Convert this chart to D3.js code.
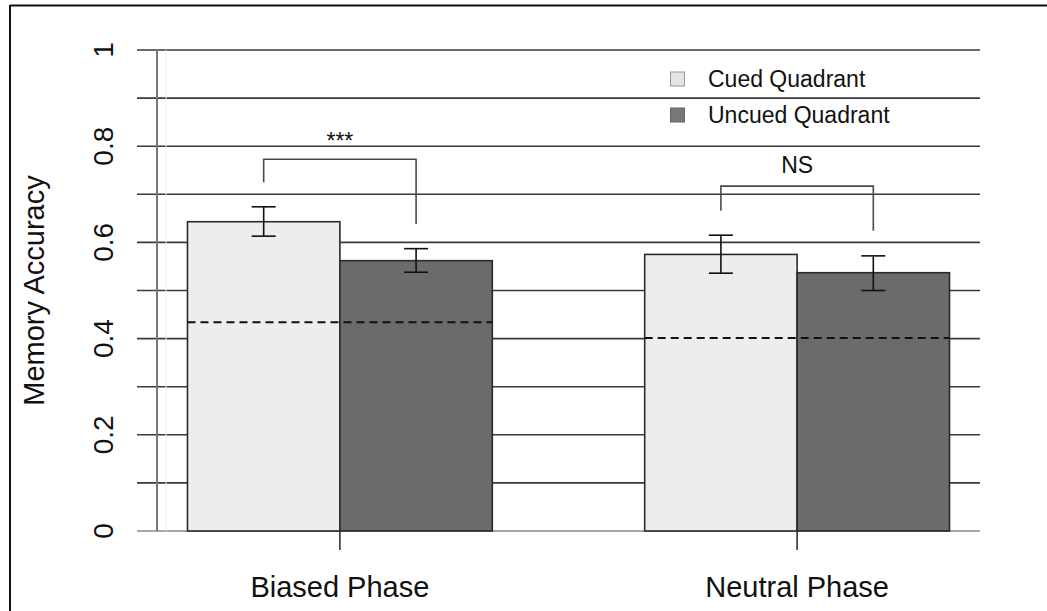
<!DOCTYPE html>
<html>
<head>
<meta charset="utf-8">
<script src="https://cdn.jsdelivr.net/npm/d3@7"></script>
<style>
  html, body { margin: 0; padding: 0; background: #fff; }
  svg { display: block; }
  text { font-family: "Liberation Sans", Arial, sans-serif; fill: #111; }
</style>
</head>
<body>
<svg id="chart" width="1047" height="611"></svg>
<script>
// Memory accuracy by phase and quadrant type
const phases = ["Biased Phase", "Neutral Phase"];
const seriesNames = ["Cued Quadrant", "Uncued Quadrant"];
const cuedMeans = [0.643, 0.575];
const uncuedMeans = [0.562, 0.537];
const cuedLow = [0.613, 0.536];
const cuedHigh = [0.674, 0.615];
const uncuedLow = [0.538, 0.500];
const uncuedHigh = [0.587, 0.572];
const chanceLevel = [0.434, 0.401];
const sigLabels = ["***", "NS"];
const bracketTop = [0.773, 0.717];
const bracketLeftEnd = [0.725, 0.666];
const bracketRightEnd = [0.638, 0.624];
const sigLabelY = [0.794, 0.745];
const yTicks = [0, 0.1, 0.2, 0.3, 0.4, 0.5, 0.6, 0.7, 0.8, 0.9, 1];
const yTickLabels = ["0", "", "0.2", "", "0.4", "", "0.6", "", "0.8", "", "1"];

const fills = ["#ededed", "#6b6b6b"];

const svg = d3.select("#chart");

// bar-unit horizontal scale: bars occupy [1,2],[2,3] and [4,5],[5,6]
const x = d3.scaleLinear().domain([0.8, 6.2]).range([157, 980]);
const y = d3.scaleLinear().domain([0, 1]).range([531, 50]);

// outer frame (top and left edges)
svg.append("line").attr("x1", 10).attr("x2", 1047).attr("y1", 5.5).attr("y2", 5.5)
  .attr("stroke", "#111").attr("stroke-width", 2);
svg.append("line").attr("x1", 10).attr("x2", 10).attr("y1", 5).attr("y2", 611)
  .attr("stroke", "#111").attr("stroke-width", 2);

// horizontal reference lines with outward ticks
const grid = svg.append("g");
grid.selectAll("line").data(yTicks).join("line")
  .attr("x1", 137).attr("x2", x(6.2))
  .attr("y1", d => y(d)).attr("y2", d => y(d))
  .attr("stroke", (d, i) => i === 0 ? "#888" : "#3a3a3a")
  .attr("stroke-width", 1.6);

// y axis line
svg.append("line").attr("x1", x(0.8)).attr("x2", x(0.8)).attr("y1", y(1)).attr("y2", y(0))
  .attr("stroke", "#777").attr("stroke-width", 2);
svg.append("line").attr("x1", x(0.86)).attr("x2", x(0.86)).attr("y1", y(1)).attr("y2", y(0))
  .attr("stroke", "#efefef").attr("stroke-width", 1);

// y tick labels (rotated, R style)
svg.append("g").selectAll("text").data(yTicks.filter((d, i) => yTickLabels[i] !== "")).join("text")
  .attr("transform", d => `translate(113,${y(d)}) rotate(-90)`)
  .attr("text-anchor", "middle")
  .attr("font-size", 28)
  .text(d => yTickLabels[yTicks.indexOf(d)]);

// y axis title
svg.append("text")
  .attr("transform", `translate(44,${(y(0) + y(1)) / 2}) rotate(-90)`)
  .attr("text-anchor", "middle")
  .attr("font-size", 29)
  .text("Memory Accuracy");

// bars
const barData = [];
phases.forEach((p, g) => {
  barData.push({ g, s: 0, v: cuedMeans[g], lo: cuedLow[g], hi: cuedHigh[g] });
  barData.push({ g, s: 1, v: uncuedMeans[g], lo: uncuedLow[g], hi: uncuedHigh[g] });
});
const left = d => 1 + 3 * d.g + d.s;

svg.append("g").selectAll("rect").data(barData).join("rect")
  .attr("x", d => x(left(d)))
  .attr("width", d => x(left(d) + 1) - x(left(d)))
  .attr("y", d => y(d.v))
  .attr("height", d => y(0) - y(d.v))
  .attr("fill", d => fills[d.s])
  .attr("stroke", "#2a2a2a")
  .attr("stroke-width", 1.6);

// chance-level dashed lines across each group
svg.append("g").selectAll("line").data(phases).join("line")
  .attr("x1", (d, g) => x(1 + 3 * g))
  .attr("x2", (d, g) => x(3 + 3 * g))
  .attr("y1", (d, g) => y(chanceLevel[g]))
  .attr("y2", (d, g) => y(chanceLevel[g]))
  .attr("stroke", "#111").attr("stroke-width", 2)
  .attr("stroke-dasharray", "8,5");

// error bars
const eb = svg.append("g").attr("stroke", "#111").attr("stroke-width", 1.6);
barData.forEach(d => {
  const cx = x(left(d) + 0.5);
  eb.append("line").attr("x1", cx).attr("x2", cx).attr("y1", y(d.lo)).attr("y2", y(d.hi));
  eb.append("line").attr("x1", cx - 12).attr("x2", cx + 12).attr("y1", y(d.lo)).attr("y2", y(d.lo));
  eb.append("line").attr("x1", cx - 12).attr("x2", cx + 12).attr("y1", y(d.hi)).attr("y2", y(d.hi));
});

// x axis ticks and category labels
phases.forEach((p, g) => {
  const cx = x(2 + 3 * g);
  svg.append("line").attr("x1", cx).attr("x2", cx).attr("y1", y(0)).attr("y2", y(0) + 19)
    .attr("stroke", "#333").attr("stroke-width", 1.6);
  svg.append("text").attr("x", cx).attr("y", 597)
    .attr("text-anchor", "middle").attr("font-size", 29).text(p);
});

// significance brackets
phases.forEach((p, g) => {
  const xl = x(1.5 + 3 * g), xr = x(2.5 + 3 * g);
  svg.append("path")
    .attr("d", `M${xl},${y(bracketLeftEnd[g])}V${y(bracketTop[g])}H${xr}V${y(bracketRightEnd[g])}`)
    .attr("fill", "none").attr("stroke", "#4a4a4a").attr("stroke-width", 1.6);
  svg.append("text").attr("x", (xl + xr) / 2).attr("y", y(sigLabelY[g]))
    .attr("text-anchor", "middle").attr("font-size", 23).text(sigLabels[g]);
});

// legend
const legend = svg.append("g");
seriesNames.forEach((name, i) => {
  const rowY = 87 + i * 36;
  legend.append("rect").attr("x", 670.5).attr("y", rowY - 15).attr("width", 14).attr("height", 14)
    .attr("fill", i === 0 ? "#e4e4e4" : "#777").attr("stroke", i === 0 ? "#999" : "#666").attr("stroke-width", 1);
  legend.append("text").attr("x", 708).attr("y", rowY).attr("font-size", 23).text(name);
});
</script>
</body>
</html>
